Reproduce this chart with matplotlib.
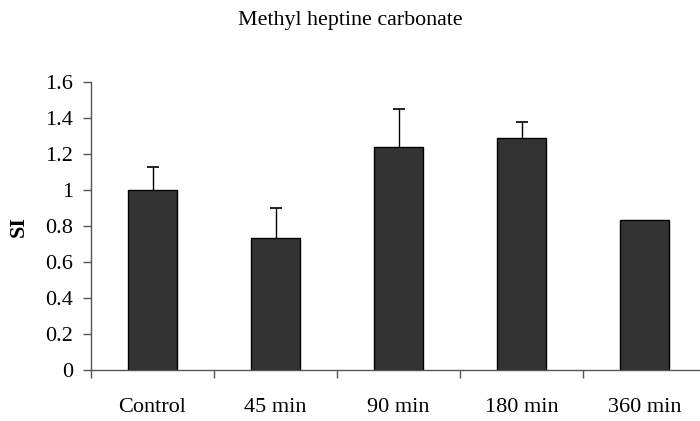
import matplotlib.pyplot as plt
import numpy as np

# data
categories = ["Control", "45 min", "90 min", "180 min", "360 min"]
si_values = [1.0, 0.735, 1.24, 1.287, 0.833]
si_errors = [0.126, 0.167, 0.208, 0.089, 0.0]

plt.rcParams['font.family'] = ['Liberation Serif', 'DejaVu Serif']

fig = plt.figure(figsize=(7, 4.21), dpi=100)
ax = fig.add_axes([91 / 700, 51 / 421, 615 / 700, 288 / 421])

x = np.arange(len(categories))
ax.bar(x, si_values, width=0.4, color='#333333', edgecolor='black', linewidth=1, zorder=2)

# upper error bars only, skip bars without error
err = np.array(si_errors)
vals = np.array(si_values)
has_err = err > 0
_, caps, _ = ax.errorbar(x[has_err], vals[has_err], yerr=[np.zeros(has_err.sum()), err[has_err]],
                         fmt='none', ecolor='black', elinewidth=1, capsize=4.5, capthick=1.2, zorder=1)
# hide the caps sitting on the bar tops
for cap in caps:
    if np.allclose(cap.get_ydata(), vals[has_err]):
        cap.set_visible(False)

ax.set_xlim(-0.5, len(categories) - 0.5)
ax.set_ylim(0, 1.6)
ax.set_yticks(np.arange(0, 1.61, 0.2))
ax.set_yticklabels(["0", "0.2", "0.4", "0.6", "0.8", "1", "1.2", "1.4", "1.6"])
ax.set_xticks(x)
ax.set_xticklabels(categories)
ax.set_xticks(np.arange(-0.5, len(categories), 1), minor=True)

ax.tick_params(axis='x', which='major', length=0, pad=20, labelsize=16)
ax.tick_params(axis='x', which='minor', length=6, width=1, color='#555555', direction='out')
ax.tick_params(axis='y', length=6, width=1, color='#555555', pad=7, labelsize=16)

for side in ['top', 'right']:
    ax.spines[side].set_visible(False)
for side in ['left', 'bottom']:
    ax.spines[side].set_color('#555555')
    ax.spines[side].set_linewidth(1)

ax.set_ylabel("SI", fontweight='bold', fontsize=16, labelpad=12)
fig.text(0.5, 1 - 21 / 421, "Methyl heptine carbonate", ha='center', va='center', fontsize=15.8)

fig.savefig("out.png", dpi=100)
